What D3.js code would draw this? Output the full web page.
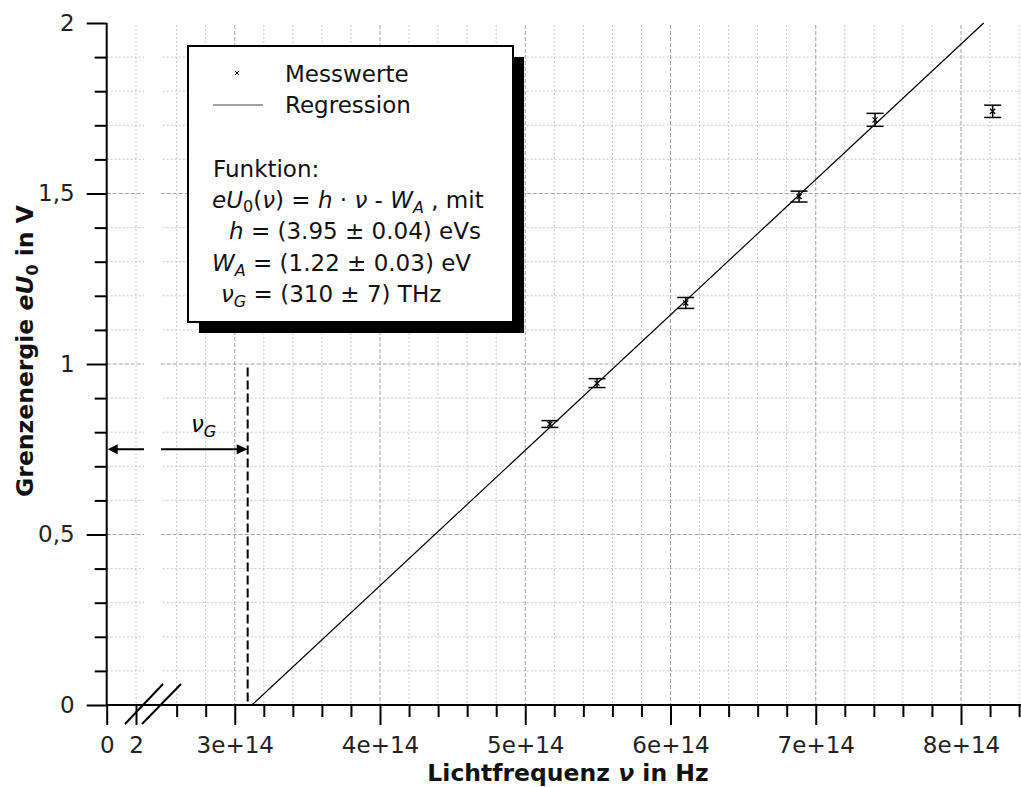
<html>
<head>
  <meta charset="utf-8" />
<script src="https://d3js.org/d3.v7.min.js"></script>
</head>
<style>
  body { margin: 0; background: white; }
  svg { font-family: "DejaVu Sans", sans-serif; }
</style>
<body>
<svg class="main" width="1021" height="787"></svg>
<script>

// measured values (photo effect)
const freq = [5.17e14, 5.494e14, 6.105e14, 6.885e14, 7.408e14, 8.218e14]
const energy = [0.824, 0.944, 1.179, 1.491, 1.716, 1.741]
const energyErr = [0.010, 0.013, 0.016, 0.016, 0.019, 0.018]

// regression line as drawn
const fitSlope = 3.97e-15
const fitOffset = 1.238
const nuG = 3.089e14

const xMajor = [3e14, 4e14, 5e14, 6e14, 7e14, 8e14]
const xMinor = [2.6e14, 2.8e14, 3.2e14, 3.4e14, 3.6e14, 3.8e14, 4.2e14, 4.4e14, 4.6e14, 4.8e14,
  5.2e14, 5.4e14, 5.6e14, 5.8e14, 6.2e14, 6.4e14, 6.6e14, 6.8e14, 7.2e14, 7.4e14, 7.6e14, 7.8e14,
  8.2e14, 8.4e14]
const xLowTicks = [0, 2]
const yMajor = [0, 0.5, 1, 1.5, 2]
const yMinor = [0.1, 0.2, 0.3, 0.4, 0.6, 0.7, 0.8, 0.9, 1.1, 1.2, 1.3, 1.4, 1.6, 1.7, 1.8, 1.9]

const legendLabels = ["Messwerte", "Regression"]

const svg = d3.select("svg")
const pLeft = 106.7, pRight = 1021, pTop = 23, pBottom = 705

const x = d3.scaleLinear().domain([3e14, 8e14]).range([234.75, 961])
const xLow = d3.scaleLinear().domain([0, 2]).range([pLeft, 136])
const y = d3.scaleLinear().domain([0, 2]).range([pBottom, pTop])

// grid
const grid = svg.append("g")
grid.selectAll("line.hmin").data(yMinor).enter().append("line")
  .attr("x1", pLeft).attr("x2", pRight).attr("y1", d => y(d)).attr("y2", d => y(d))
  .style("stroke", "#c8c8c8").style("stroke-width", 1).style("stroke-dasharray", "2,2")
grid.selectAll("line.hmaj").data([0.5, 1, 1.5]).enter().append("line")
  .attr("x1", pLeft).attr("x2", pRight).attr("y1", d => y(d)).attr("y2", d => y(d))
  .style("stroke", "#a0a0a0").style("stroke-width", 1).style("stroke-dasharray", "4,2")
grid.selectAll("line.vmin").data(xMinor).enter().append("line")
  .attr("x1", d => x(d)).attr("x2", d => x(d)).attr("y1", pTop + 2).attr("y2", pBottom)
  .style("stroke", "#c8c8c8").style("stroke-width", 1).style("stroke-dasharray", "2,2")
grid.selectAll("line.vlow").data([2]).enter().append("line")
  .attr("x1", d => xLow(d)).attr("x2", d => xLow(d)).attr("y1", pTop + 2).attr("y2", pBottom)
  .style("stroke", "#c8c8c8").style("stroke-width", 1).style("stroke-dasharray", "2,2")
grid.selectAll("line.vmaj").data(xMajor).enter().append("line")
  .attr("x1", d => x(d)).attr("x2", d => x(d)).attr("y1", pTop + 2).attr("y2", pBottom)
  .style("stroke", "#a0a0a0").style("stroke-width", 1).style("stroke-dasharray", "4,2")

// white band of the axis break
svg.append("rect").attr("x", 144).attr("y", pTop - 3).attr("width", 17).attr("height", pBottom - pTop + 2)
  .style("fill", "white")

// regression
const fx0 = fitOffset / fitSlope
const fx1 = (2 + fitOffset) / fitSlope
svg.append("line")
  .attr("x1", x(fx0)).attr("y1", y(0)).attr("x2", x(fx1)).attr("y2", y(2))
  .style("stroke", "black").style("stroke-width", 1.2)

// nu_G marker
svg.append("line")
  .attr("x1", x(nuG)).attr("x2", x(nuG)).attr("y1", y(0.99)).attr("y2", y(0))
  .style("stroke", "black").style("stroke-width", 2).style("stroke-dasharray", "9,4")

const ay = y(0.75)
svg.append("line").attr("x1", pLeft + 4).attr("x2", x(nuG) - 4).attr("y1", ay).attr("y2", ay)
  .style("stroke", "black").style("stroke-width", 2)
svg.append("rect").attr("x", 144).attr("y", ay - 3).attr("width", 17).attr("height", 6).style("fill", "white")
svg.append("path")
  .attr("d", `M${pLeft + 1},${ay} L${pLeft + 11},${ay - 5} L${pLeft + 11},${ay + 5} Z`)
  .style("fill", "black")
svg.append("path")
  .attr("d", `M${x(nuG)},${ay} L${x(nuG) - 11},${ay - 5} L${x(nuG) - 11},${ay + 5} Z`)
  .style("fill", "black")
const nuLbl = svg.append("text").attr("x", 191).attr("y", 432).style("font-size", "23px")
nuLbl.append("tspan").style("font-style", "italic").text("ν")
nuLbl.append("tspan").attr("dy", 5).style("font-size", "16px").style("font-style", "italic").text("G")

// error bars
const pts = freq.map((f, i) => ({ f: f, e: energy[i], s: energyErr[i] }))
const eb = svg.append("g").style("stroke", "black").style("stroke-width", 1.5)
eb.selectAll("line.v").data(pts).enter().append("line")
  .attr("x1", d => x(d.f)).attr("x2", d => x(d.f)).attr("y1", d => y(d.e - d.s)).attr("y2", d => y(d.e + d.s))
eb.selectAll("line.t").data(pts).enter().append("line")
  .attr("x1", d => x(d.f) - 8.5).attr("x2", d => x(d.f) + 8.5).attr("y1", d => y(d.e + d.s)).attr("y2", d => y(d.e + d.s))
eb.selectAll("line.b").data(pts).enter().append("line")
  .attr("x1", d => x(d.f) - 8.5).attr("x2", d => x(d.f) + 8.5).attr("y1", d => y(d.e - d.s)).attr("y2", d => y(d.e - d.s))

const cross = (cx, cy, r) => `M${cx - r},${cy - r}L${cx + r},${cy + r}M${cx - r},${cy + r}L${cx + r},${cy - r}`
svg.append("g").selectAll("path").data(pts).enter().append("path")
  .attr("d", d => cross(x(d.f), y(d.e), 2.5))
  .style("stroke", "black").style("stroke-width", 1.3)

// axes
const axisStyle = g => {
  g.select(".domain").remove()
  g.selectAll("line").style("stroke", "black").style("stroke-width", 2)
  g.selectAll("text").style("font-family", "DejaVu Sans, sans-serif").style("font-size", "23px").style("fill", "#222")
}

svg.append("g").attr("transform", `translate(0,${pBottom})`)
  .call(d3.axisBottom(x).tickValues(xMinor).tickSize(12).tickFormat(""))
  .call(axisStyle)
svg.append("g").attr("transform", `translate(0,${pBottom})`)
  .call(d3.axisBottom(x).tickValues(xMajor).tickSize(20).tickPadding(12).tickFormat(d => Math.round(d / 1e14) + "e+14"))
  .call(axisStyle)
svg.append("g").attr("transform", `translate(0,${pBottom})`)
  .call(d3.axisBottom(xLow).tickValues(xLowTicks).tickSize(20).tickPadding(12).tickFormat(d => String(d)))
  .call(axisStyle)

svg.append("g").attr("transform", `translate(${pLeft},0)`)
  .call(d3.axisLeft(y).tickValues(yMinor).tickSize(12).tickFormat(""))
  .call(axisStyle)
svg.append("g").attr("transform", `translate(${pLeft},0)`)
  .call(d3.axisLeft(y).tickValues(yMajor).tickSize(20).tickPadding(12).tickFormat(d => String(d).replace(".", ",")))
  .call(axisStyle)

svg.append("line").attr("x1", pLeft).attr("x2", pRight).attr("y1", pBottom).attr("y2", pBottom)
  .style("stroke", "black").style("stroke-width", 2)
svg.append("line").attr("x1", pLeft).attr("x2", pLeft).attr("y1", pTop).attr("y2", pBottom)
  .style("stroke", "black").style("stroke-width", 2)

// break slashes
svg.append("path")
  .attr("d", "M125,724L163,684M142,724L181,684")
  .style("stroke", "black").style("stroke-width", 2).style("fill", "none")

// axis titles
const xl = svg.append("text").attr("x", 568).attr("y", 781).attr("text-anchor", "middle")
  .style("font-size", "23.5px").style("font-weight", "bold").style("fill", "#111")
xl.append("tspan").text("Lichtfrequenz ")
xl.append("tspan").style("font-style", "italic").text("ν")
xl.append("tspan").text(" in Hz")

const yl = svg.append("text").attr("transform", "translate(33,351) rotate(-90)").attr("text-anchor", "middle")
  .style("font-size", "23.5px").style("font-weight", "bold").style("fill", "#111")
yl.append("tspan").text("Grenzenergie ")
yl.append("tspan").style("font-style", "italic").text("eU")
yl.append("tspan").attr("dy", 5).style("font-size", "16px").text("0")
yl.append("tspan").attr("dy", -5).text(" in V")

// legend
const lg = svg.append("g")
lg.append("rect").attr("x", 199).attr("y", 57).attr("width", 325).attr("height", 276).style("fill", "black")
lg.append("rect").attr("x", 188).attr("y", 46).attr("width", 325).attr("height", 276)
  .style("fill", "white").style("stroke", "black").style("stroke-width", 2)
lg.append("path").attr("d", cross(237, 73, 2)).style("stroke", "black").style("stroke-width", 1)
lg.append("line").attr("x1", 213).attr("x2", 263).attr("y1", 105).attr("y2", 105)
  .style("stroke", "#444").style("stroke-width", 1.2)
lg.selectAll("text.lab").data(legendLabels).enter().append("text")
  .attr("x", 285).attr("y", (d, i) => 82 + i * 31)
  .style("font-size", "23px").style("fill", "#111").text(d => d)

const fs = "23px", sub = "16px"
const t1 = lg.append("text").attr("x", 213).attr("y", 177).style("font-size", fs).style("fill", "#111").text("Funktion:")
const t2 = lg.append("text").attr("x", 212).attr("y", 208).style("font-size", fs).style("fill", "#111")
t2.append("tspan").style("font-style", "italic").text("eU")
t2.append("tspan").attr("dy", 4).style("font-size", sub).text("0")
t2.append("tspan").attr("dy", -4).text("(")
t2.append("tspan").style("font-style", "italic").text("ν")
t2.append("tspan").text(") = ")
t2.append("tspan").style("font-style", "italic").text("h")
t2.append("tspan").text(" · ")
t2.append("tspan").style("font-style", "italic").text("ν")
t2.append("tspan").text(" - ")
t2.append("tspan").style("font-style", "italic").text("W")
t2.append("tspan").attr("dy", 5).style("font-size", sub).style("font-style", "italic").text("A")
t2.append("tspan").attr("dy", -5).text(" , mit")
const t3 = lg.append("text").attr("x", 229).attr("y", 239).style("font-size", fs).style("fill", "#111")
t3.append("tspan").style("font-style", "italic").text("h")
t3.append("tspan").text(" = (3.95 ± 0.04) eVs")
const t4 = lg.append("text").attr("x", 212).attr("y", 271).style("font-size", fs).style("fill", "#111")
t4.append("tspan").style("font-style", "italic").text("W")
t4.append("tspan").attr("dy", 5).style("font-size", sub).style("font-style", "italic").text("A")
t4.append("tspan").attr("dy", -5).text(" = (1.22 ± 0.03) eV")
const t5 = lg.append("text").attr("x", 221).attr("y", 302).style("font-size", fs).style("fill", "#111")
t5.append("tspan").style("font-style", "italic").text("ν")
t5.append("tspan").attr("dy", 5).style("font-size", sub).style("font-style", "italic").text("G")
t5.append("tspan").attr("dy", -5).text(" = (310 ± 7) THz")

</script>
</body>
</html>
